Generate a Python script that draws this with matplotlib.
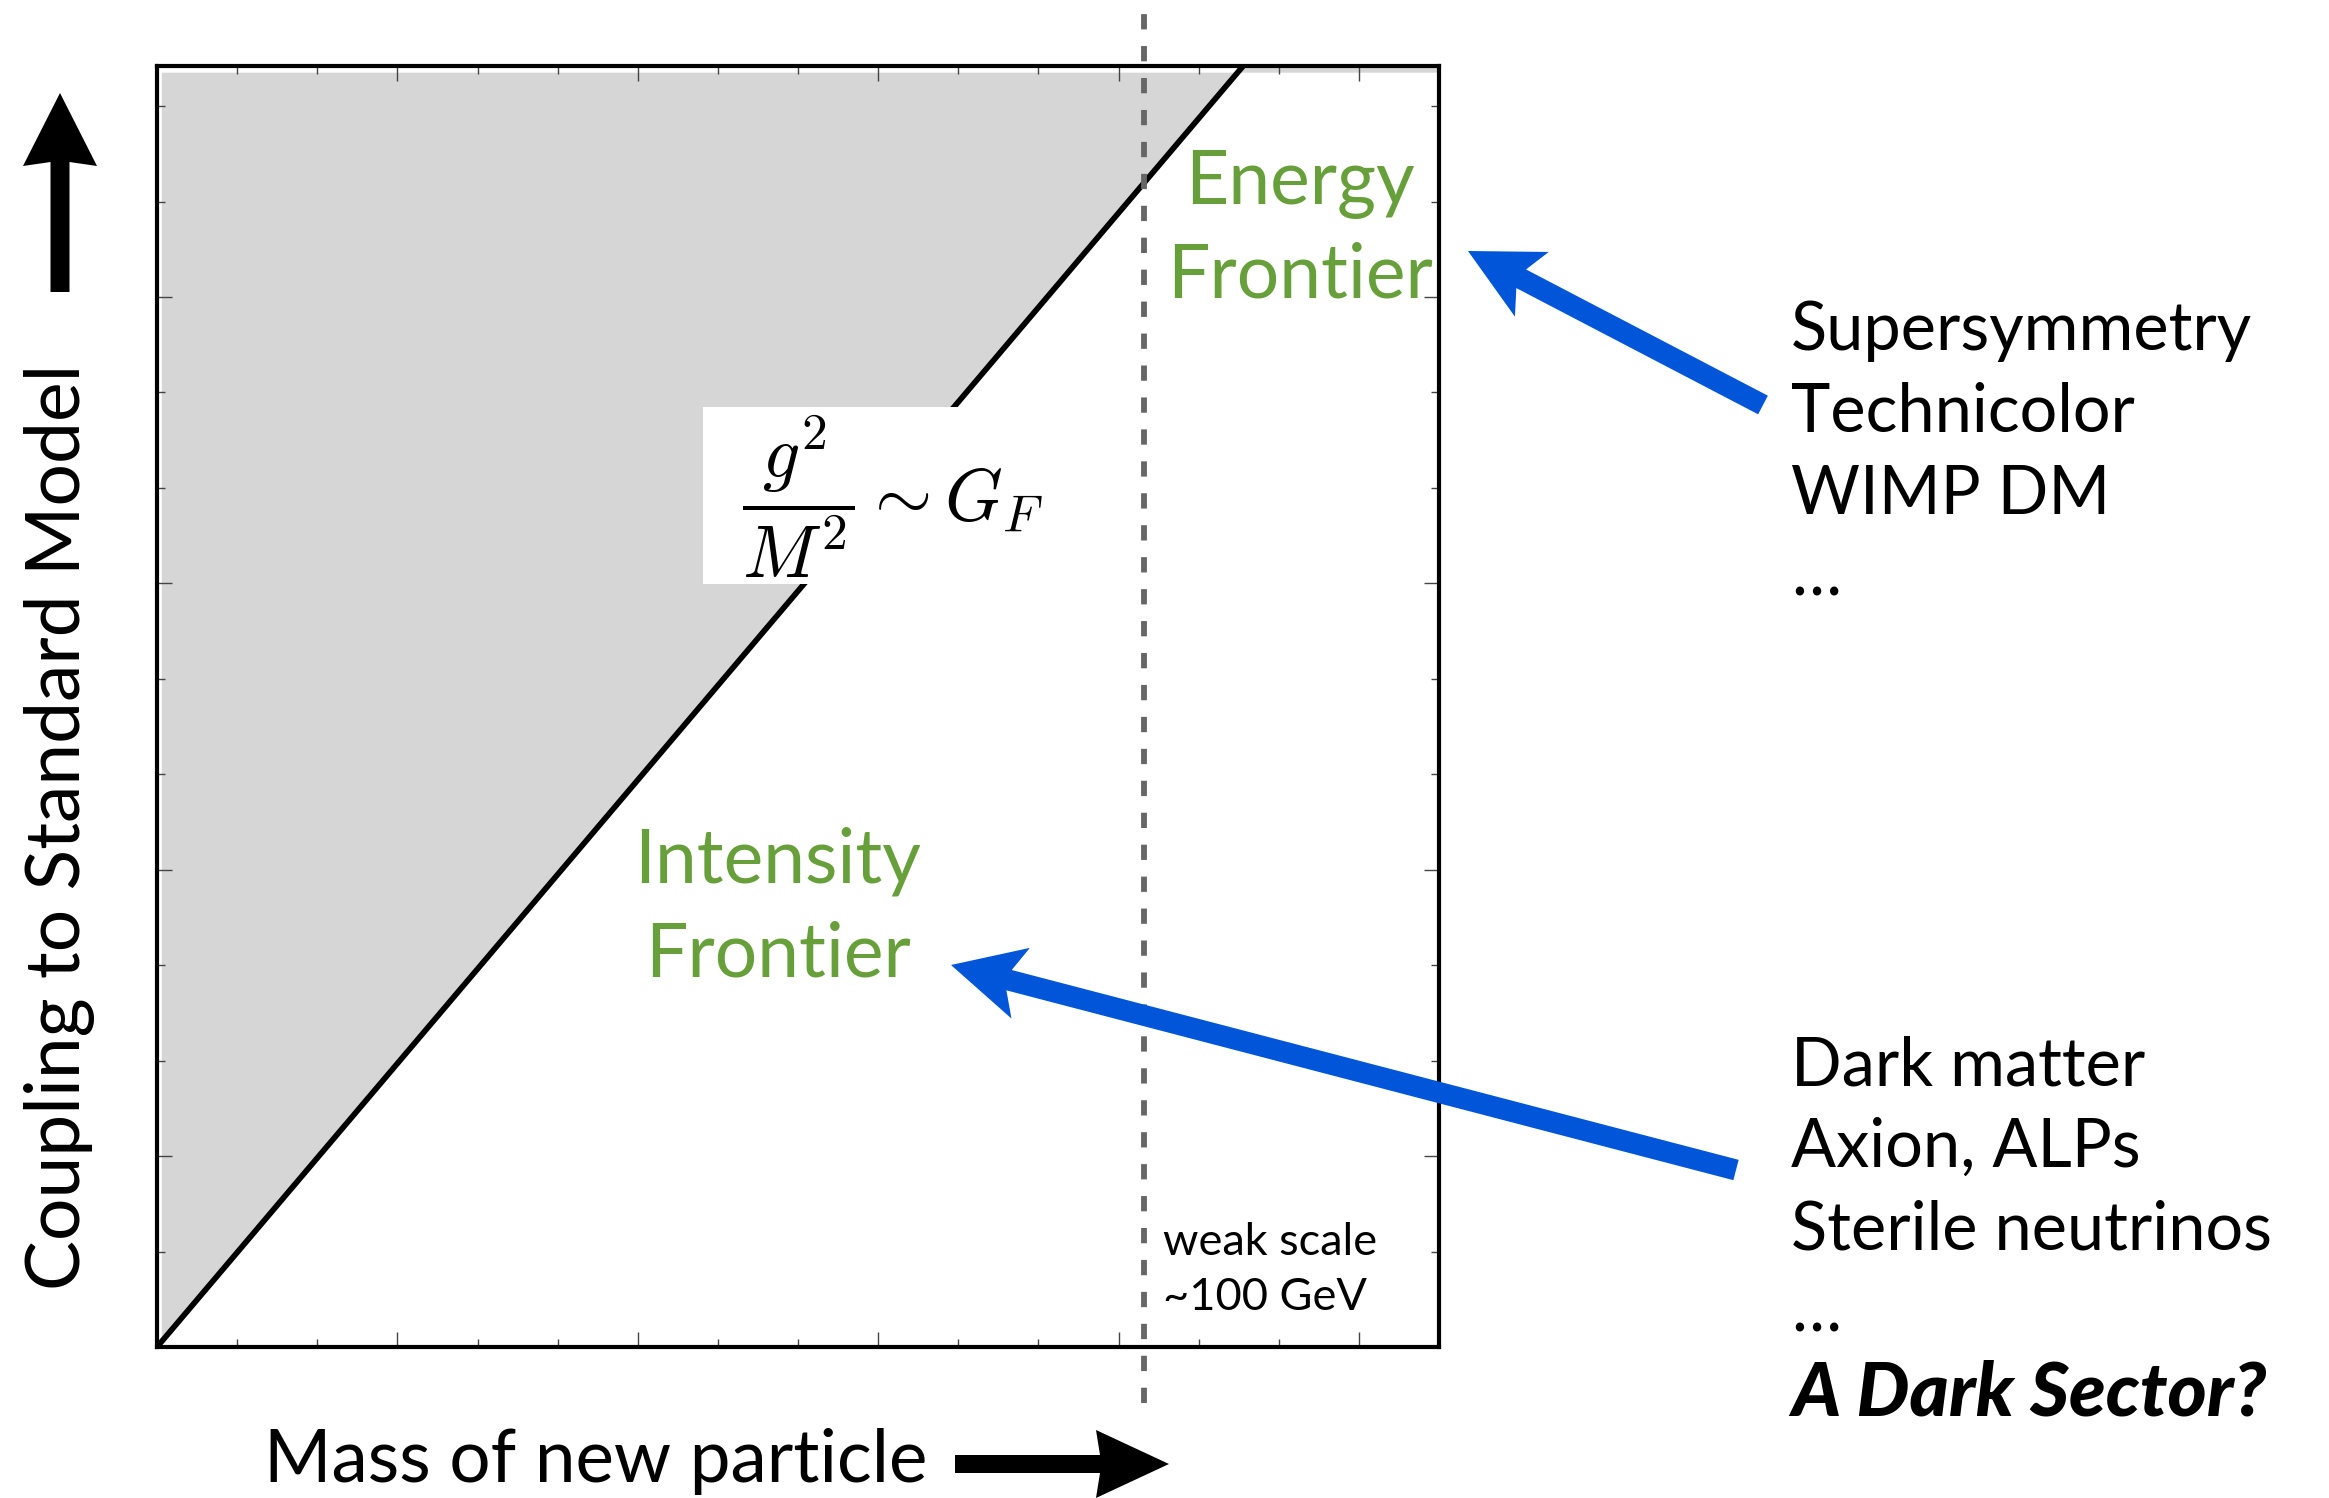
import matplotlib.pyplot as plt
import numpy as np
from matplotlib.patches import Polygon, Rectangle
from matplotlib.ticker import MultipleLocator

plt.rcParams['font.family'] = ['Lato', 'DejaVu Sans']
plt.rcParams['mathtext.fontset'] = 'cm'
plt.rcParams['lines.scale_dashes'] = False

W, H = 2329, 1498

# sketch axes (arbitrary units)
x_range = (0, 16)
y_range = (0, 13.42)
x_major = [3, 6, 9, 12, 15]
y_major = [2, 5, 8, 11]
# boundary line g^2/M^2 ~ G_F
bound_x = [0.0, 16.0]
bound_y = [0.0, 15.84]
weak_scale = 12.32

energy_labels = ['Supersymmetry', 'Technicolor', 'WIMP DM', '…']
intensity_labels = ['Dark matter', 'Axion, ALPs', 'Sterile neutrinos', '…']

green = '#67a03a'
blue = '#0055d8'


def fpos(x, y):
    # image pixel -> figure fraction
    return x / W, 1 - y / H


def arrow(tail, tip, width, head_w, head_l, notch, color):
    t0 = np.array([tail[0], H - tail[1]], float)
    t1 = np.array([tip[0], H - tip[1]], float)
    d = t1 - t0
    u = d / np.hypot(*d)
    n = np.array([-u[1], u[0]])
    base = t1 - u * head_l
    neck = t1 - u * (head_l - notch)
    pts = [t0 + n * width / 2, neck + n * width / 2, base + n * head_w / 2, t1,
           base - n * head_w / 2, neck - n * width / 2, t0 - n * width / 2]
    pts = [(p[0] / W, p[1] / H) for p in pts]
    fig.patches.append(Polygon(pts, closed=True, transform=fig.transFigure,
                               facecolor=color, edgecolor='none', zorder=2))


fig = plt.figure(figsize=(W / 100, H / 100), dpi=100)
ax = fig.add_axes([157 / W, 1 - 1347 / H, (1439 - 157) / W, (1347 - 66) / H])
ax.set_xlim(*x_range)
ax.set_ylim(*y_range)

slope = bound_y[1] / bound_x[1]
fx = np.linspace(0.06, 16, 50)
ax.fill_between(fx, slope * fx, y_range[1] - 0.07, color='#d6d6d6', lw=0, zorder=1)
ax.plot(bound_x, bound_y, color='black', lw=4.1, zorder=2)

ax.plot([weak_scale, weak_scale], [-0.59, 14.0], color='#666666', lw=4.2,
        dashes=(11, 12), clip_on=False, zorder=3)

ax.set_xticks(x_major)
ax.set_yticks(y_major)
ax.xaxis.set_minor_locator(MultipleLocator(1))
ax.yaxis.set_minor_locator(MultipleLocator(1))
ax.tick_params(which='both', direction='in', top=True, right=True,
               labelbottom=False, labelleft=False, color='#444444', width=1)
ax.tick_params(which='major', length=11)
ax.tick_params(which='minor', length=6)
for s in ax.spines.values():
    s.set_linewidth(3)

# formula box
x0, y0 = fpos(703, 584)
fig.patches.append(Rectangle((x0, y0), (1062 - 703) / W, (584 - 407) / H,
                             transform=fig.transFigure, facecolor='white',
                             edgecolor='none', zorder=1))
fig.text(*fpos(742, 497), r'$\dfrac{g^2}{M^2} \sim G_F$', fontsize=53,
         ha='left', va='center', zorder=3)

# frontier labels
fs_front = 54
fig.text(*fpos(1300, 204), 'Energy', color=green, fontsize=fs_front, ha='center', va='baseline')
fig.text(*fpos(1300, 297), 'Frontier', color=green, fontsize=fs_front, ha='center', va='baseline')
fig.text(*fpos(778, 883), 'Intensity', color=green, fontsize=fs_front, ha='center', va='baseline')
fig.text(*fpos(778, 976), 'Frontier', color=green, fontsize=fs_front, ha='center', va='baseline')

fig.text(*fpos(1163, 1255), 'weak scale', fontsize=32.5, ha='left', va='baseline')
fig.text(*fpos(1163, 1310), '~100 GeV', fontsize=32.5, ha='left', va='baseline')

# axis titles with arrows
fig.text(*fpos(264, 1482), 'Mass of new particle', fontsize=52.5, ha='left', va='baseline')
arrow((955, 1464), (1169, 1464), 18, 68, 73, 4, 'black')
fig.text(*fpos(80, 827), 'Coupling to Standard Model', fontsize=54, rotation=90,
         rotation_mode='anchor', ha='center', va='baseline')
arrow((60, 292), (60, 93), 19, 74, 73, 4, 'black')

# model lists
for i, lab in enumerate(energy_labels):
    fig.text(*fpos(1791, 350 + 82 * i), lab, fontsize=48, ha='left', va='baseline')
for i, lab in enumerate(intensity_labels):
    fig.text(*fpos(1791, 1085 + 82 * i), lab, fontsize=48, ha='left', va='baseline')
fig.text(*fpos(1791, 1415), 'A Dark Sector?', fontsize=54, ha='left', va='baseline',
         fontweight='black', fontstyle='italic')

arrow((1763, 405), (1468, 251), 21, 73, 72, 12, blue)
arrow((1736, 1170), (951, 965), 21, 73, 72, 12, blue)

fig.savefig('out.png', dpi=100)
